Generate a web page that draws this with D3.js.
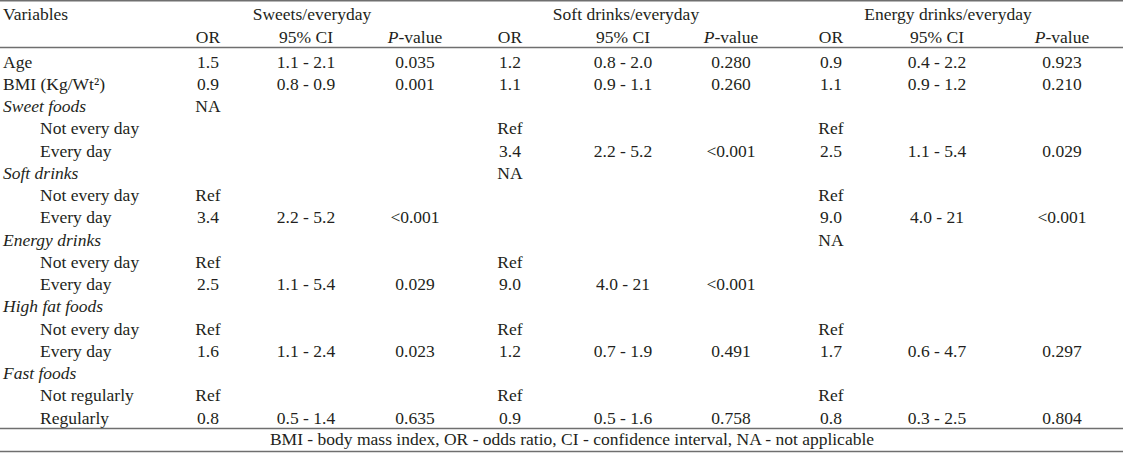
<!DOCTYPE html>
<html>
<head>
<meta charset="utf-8">
<script src="https://cdn.jsdelivr.net/npm/d3@7"></script>
<style>
  html, body { margin: 0; padding: 0; background: #fff; }
  svg { display: block; }
  text { font-family: "Liberation Serif", "DejaVu Serif", serif; font-size: 17.5px; fill: #231f20; }
</style>
</head>
<body>
<svg id="chart" width="1123" height="453"></svg>
<script>
// ---- data ----
const variables = ["Age", "BMI (Kg/Wt\u00B2)", "Sweet foods", "Not every day", "Every day",
  "Soft drinks", "Not every day", "Every day", "Energy drinks", "Not every day", "Every day",
  "High fat foods", "Not every day", "Every day", "Fast foods", "Not regularly", "Regularly"];
const rowTypes = ["main", "main", "group", "sub", "sub", "group", "sub", "sub", "group", "sub", "sub",
  "group", "sub", "sub", "group", "sub", "sub"];
const groups = ["Sweets/everyday", "Soft drinks/everyday", "Energy drinks/everyday"];
const subHeaders = ["OR", "95% CI", "P-value"];

const sweetsOR = ["1.5", "0.9", "NA", "", "", "", "Ref", "3.4", "", "Ref", "2.5", "", "Ref", "1.6", "", "Ref", "0.8"];
const sweetsCI = ["1.1 - 2.1", "0.8 - 0.9", "", "", "", "", "", "2.2 - 5.2", "", "", "1.1 - 5.4", "", "", "1.1 - 2.4", "", "", "0.5 - 1.4"];
const sweetsP = ["0.035", "0.001", "", "", "", "", "", "<0.001", "", "", "0.029", "", "", "0.023", "", "", "0.635"];

const softOR = ["1.2", "1.1", "", "Ref", "3.4", "NA", "", "", "", "Ref", "9.0", "", "Ref", "1.2", "", "Ref", "0.9"];
const softCI = ["0.8 - 2.0", "0.9 - 1.1", "", "", "2.2 - 5.2", "", "", "", "", "", "4.0 - 21", "", "", "0.7 - 1.9", "", "", "0.5 - 1.6"];
const softP = ["0.280", "0.260", "", "", "<0.001", "", "", "", "", "", "<0.001", "", "", "0.491", "", "", "0.758"];

const energyOR = ["0.9", "1.1", "", "Ref", "2.5", "", "Ref", "9.0", "NA", "", "", "", "Ref", "1.7", "", "Ref", "0.8"];
const energyCI = ["0.4 - 2.2", "0.9 - 1.2", "", "", "1.1 - 5.4", "", "", "4.0 - 21", "", "", "", "", "", "0.6 - 4.7", "", "", "0.3 - 2.5"];
const energyP = ["0.923", "0.210", "", "", "0.029", "", "", "<0.001", "", "", "", "", "", "0.297", "", "", "0.804"];

const footnote = "BMI - body mass index, OR - odds ratio, CI - confidence interval, NA - not applicable";

// ---- table assembly ----
const columns = [
  { key: "s-or", group: 0, sub: 0, values: sweetsOR },
  { key: "s-ci", group: 0, sub: 1, values: sweetsCI },
  { key: "s-p", group: 0, sub: 2, values: sweetsP },
  { key: "d-or", group: 1, sub: 0, values: softOR },
  { key: "d-ci", group: 1, sub: 1, values: softCI },
  { key: "d-p", group: 1, sub: 2, values: softP },
  { key: "e-or", group: 2, sub: 0, values: energyOR },
  { key: "e-ci", group: 2, sub: 1, values: energyCI },
  { key: "e-p", group: 2, sub: 2, values: energyP }
];

// ---- layout ----
const W = 1123, H = 453;
const svg = d3.select("#chart");

const x = d3.scaleOrdinal()
  .domain(columns.map(c => c.key))
  .range([208, 306, 415, 510, 623, 731, 831, 937, 1062]);
const xGroup = d3.scaleOrdinal().domain(groups).range([312, 626, 948]);
const y = d3.scalePoint().domain(d3.range(variables.length)).range([62, 418]);

const lineColor = "#6f6f6f";
const rules = [0.75, 47.5, 428.5, 451.5];
svg.selectAll("line.rule").data(rules).join("line")
  .attr("class", "rule")
  .attr("x1", 0).attr("x2", W)
  .attr("y1", d => d).attr("y2", d => d)
  .attr("stroke", lineColor).attr("stroke-width", 1.5);

const base = 5.5; // baseline offset from row center

// header
svg.append("text").attr("x", 3).attr("y", 14 + base).text("Variables");
svg.selectAll("text.group").data(groups).join("text")
  .attr("class", "group")
  .attr("x", d => xGroup(d)).attr("y", 14 + base)
  .attr("text-anchor", "middle").text(d => d);

svg.selectAll("text.sub").data(columns).join("text")
  .attr("class", "sub")
  .attr("x", d => x(d.key)).attr("y", 37 + base)
  .attr("text-anchor", "middle")
  .each(function(d) {
    const t = d3.select(this);
    const label = subHeaders[d.sub];
    if (label === "P-value") {
      t.append("tspan").attr("font-style", "italic").text("P");
      t.append("tspan").text("-value");
    } else {
      t.text(label);
    }
  });

// row labels
svg.selectAll("text.var").data(variables).join("text")
  .attr("class", "var")
  .attr("x", (d, i) => rowTypes[i] === "sub" ? 40 : 3)
  .attr("y", (d, i) => y(i) + base)
  .attr("font-style", (d, i) => rowTypes[i] === "group" ? "italic" : null)
  .text(d => d);

// cells
const cells = [];
columns.forEach(c => c.values.forEach((v, i) => { if (v) cells.push({ key: c.key, row: i, v }); }));
svg.selectAll("text.cell").data(cells).join("text")
  .attr("class", "cell")
  .attr("x", d => x(d.key))
  .attr("y", d => y(d.row) + base)
  .attr("text-anchor", "middle")
  .text(d => d.v);

// footnote
svg.append("text").attr("x", 572).attr("y", 439 + base)
  .attr("text-anchor", "middle").text(footnote);
</script>
</body>
</html>
